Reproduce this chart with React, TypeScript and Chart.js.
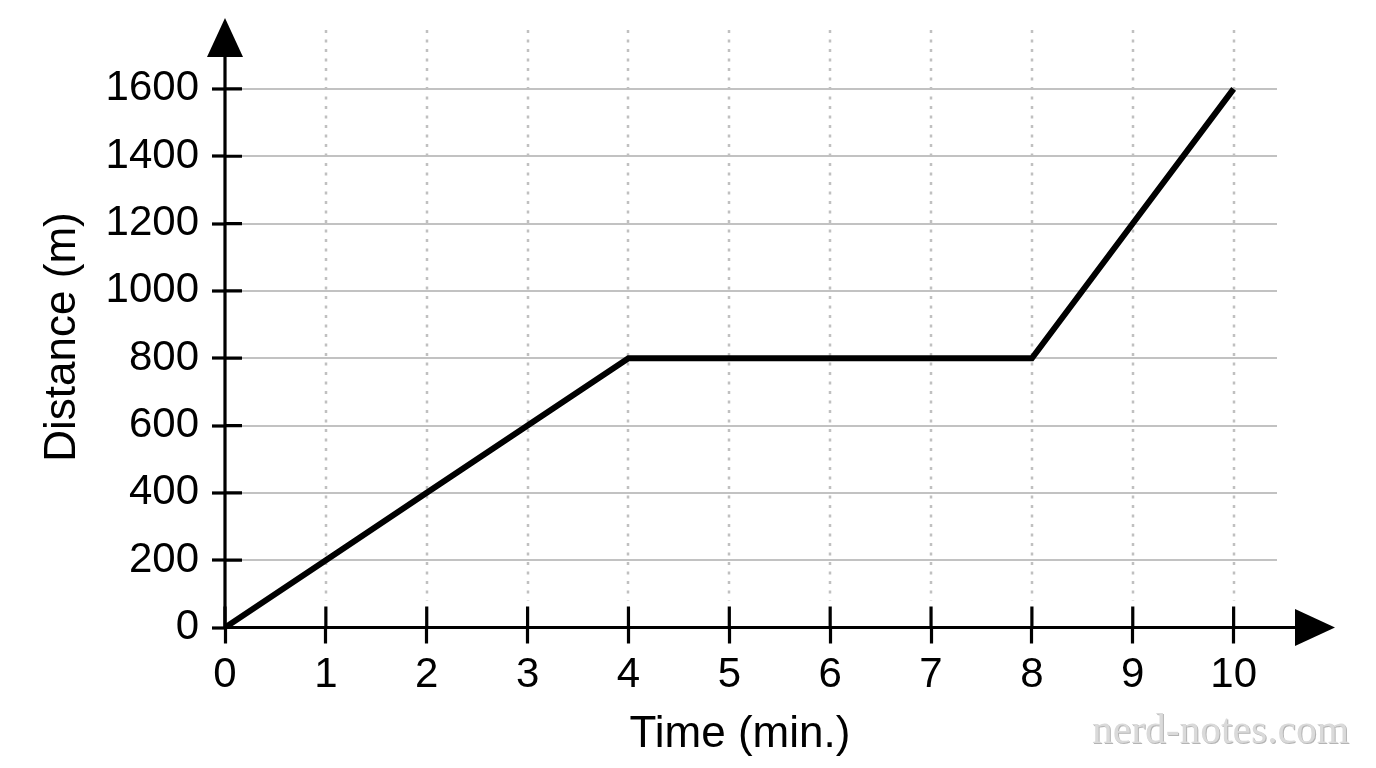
import React, { useEffect, useRef } from "react";
import { Chart, registerables } from "chart.js";

Chart.register(...registerables);

// ---- data ----
const timeMinutes = [0, 1, 2, 3, 4, 5, 6, 7, 8, 9, 10];
const distanceMeters = [0, 200, 400, 600, 800, 800, 800, 800, 800, 1200, 1600];
const xTickValues = [0, 1, 2, 3, 4, 5, 6, 7, 8, 9, 10];
const yTickValues = [0, 200, 400, 600, 800, 1000, 1200, 1400, 1600];
const xAxisTitle = "Time (min.)";
const yAxisTitle = "Distance (m)";
const watermarkText = "nerd-notes.com";

const SANS = '"Liberation Sans", Arial, Helvetica, sans-serif';
const SERIF = '"Liberation Serif", "Times New Roman", serif';

const decorPlugin = {
  id: "decor",
  beforeDatasetsDraw(chart: any) {
    const { ctx, chartArea, scales } = chart;
    const x = scales.x;
    const y = scales.y;
    const y0 = y.getPixelForValue(0);
    ctx.save();
    ctx.strokeStyle = "#c0c0c0";
    ctx.lineWidth = 2.5;
    ctx.setLineDash([3, 6.5]);
    x.ticks.forEach((t: any) => {
      if (t.value === 0) return;
      const px = Math.round(x.getPixelForValue(t.value));
      ctx.beginPath();
      ctx.moveTo(px, chartArea.top);
      ctx.lineTo(px, y0 - 27);
      ctx.stroke();
    });
    ctx.restore();
  },
  afterDatasetsDraw(chart: any) {
    const { ctx, chartArea, scales } = chart;
    const x = scales.x;
    const y = scales.y;
    const x0 = x.getPixelForValue(0);
    const y0 = y.getPixelForValue(0);
    ctx.save();
    ctx.setLineDash([]);
    ctx.strokeStyle = "#000";
    ctx.fillStyle = "#000";
    ctx.lineWidth = 3.2;
    ctx.lineCap = "butt";
    // axes
    ctx.beginPath();
    ctx.moveTo(x0, y0 + 1.5);
    ctx.lineTo(x0, chartArea.top + 20);
    ctx.moveTo(x0 - 1.5, y0);
    ctx.lineTo(chartArea.right + 22, y0);
    ctx.stroke();
    // inner tick parts
    ctx.beginPath();
    y.ticks.forEach((t: any) => {
      const py = y.getPixelForValue(t.value);
      ctx.moveTo(x0, py);
      ctx.lineTo(x0 + 17, py);
    });
    x.ticks.forEach((t: any) => {
      const px = x.getPixelForValue(t.value);
      ctx.moveTo(px, y0);
      ctx.lineTo(px, y0 - 21);
    });
    ctx.stroke();
    // arrows
    ctx.beginPath();
    ctx.moveTo(x0, chartArea.top - 12);
    ctx.lineTo(x0 - 18, chartArea.top + 27);
    ctx.lineTo(x0 + 18, chartArea.top + 27);
    ctx.closePath();
    ctx.fill();
    ctx.beginPath();
    ctx.moveTo(chartArea.right + 58, y0);
    ctx.lineTo(chartArea.right + 18, y0 - 18.5);
    ctx.lineTo(chartArea.right + 18, y0 + 18.5);
    ctx.closePath();
    ctx.fill();

    // axis titles
    ctx.font = `44px ${SANS}`;
    ctx.textAlign = "center";
    ctx.textBaseline = "alphabetic";
    ctx.fillText(xAxisTitle, 740, 747);
    ctx.save();
    ctx.translate(75, 337);
    ctx.rotate(-Math.PI / 2);
    ctx.fillText(yAxisTitle, 0, 0);
    ctx.restore();

    // watermark
    ctx.font = `41.5px ${SERIF}`;
    ctx.textAlign = "left";
    ctx.fillStyle = "#b4b4b4";
    ctx.fillText(watermarkText, 1093, 744);
    ctx.fillStyle = "#dadada";
    ctx.fillText(watermarkText, 1092, 743);
    ctx.restore();
  },
};

export default function App() {
  const canvasRef = useRef<HTMLCanvasElement | null>(null);

  useEffect(() => {
    const canvas = canvasRef.current;
    if (!canvas) return;
    const chart = new Chart(canvas, {
      type: "line",
      data: {
        datasets: [
          {
            data: timeMinutes.map((t, i) => ({ x: t, y: distanceMeters[i] })),
            borderColor: "#000",
            borderWidth: 6,
            pointRadius: 0,
            tension: 0,
            borderJoinStyle: "miter",
            borderCapStyle: "butt",
          },
        ],
      },
      options: {
        animation: false,
        responsive: false,
        devicePixelRatio: 1,
        layout: { autoPadding: false, padding: { top: 30, right: 99, left: 0, bottom: 0 } },
        plugins: {
          legend: { display: false },
          tooltip: { enabled: false },
          title: { display: false },
        },
        scales: {
          x: {
            type: "linear",
            min: 0,
            max: 10.43,
            afterBuildTicks: (scale: any) => {
              scale.ticks = xTickValues.map((v) => ({ value: v }));
            },
            afterFit: (scale: any) => {
              scale.height = 140.5;
              scale.paddingLeft = 0;
              scale.paddingRight = 0;
              scale.paddingTop = 0;
              scale.paddingBottom = 0;
            },
            border: { display: false },
            grid: {
              drawOnChartArea: false,
              drawTicks: true,
              tickLength: 16,
              tickColor: "#000",
              tickWidth: 3.2,
            },
            ticks: {
              color: "#000",
              font: { family: SANS, size: 42 },
              padding: 7,
              maxRotation: 0,
              autoSkip: false,
              callback: (v: any) => String(v),
            },
            title: { display: false },
          },
          y: {
            type: "linear",
            min: 0,
            max: 1775,
            afterBuildTicks: (scale: any) => {
              scale.ticks = yTickValues.map((v) => ({ value: v }));
            },
            afterFit: (scale: any) => {
              scale.width = 225;
              scale.paddingLeft = 0;
              scale.paddingRight = 0;
              scale.paddingTop = 0;
              scale.paddingBottom = 0;
            },
            border: { display: false },
            grid: {
              color: "#c2c2c2",
              lineWidth: 2,
              drawTicks: true,
              tickLength: 13,
              tickColor: "#000",
              tickWidth: 3.2,
            },
            ticks: {
              color: "#000",
              font: { family: SANS, size: 42 },
              padding: 13,
              autoSkip: false,
              callback: (v: any) => String(v),
            },
            title: { display: false },
          },
        },
      },
      plugins: [decorPlugin],
    } as any);
    return () => chart.destroy();
  }, []);

  return (
    <div style={{ position: "fixed", left: 0, top: 0, width: 1376, height: 768, background: "#fff" }}>
      <canvas ref={canvasRef} width={1376} height={768} style={{ display: "block" }} />
    </div>
  );
}
